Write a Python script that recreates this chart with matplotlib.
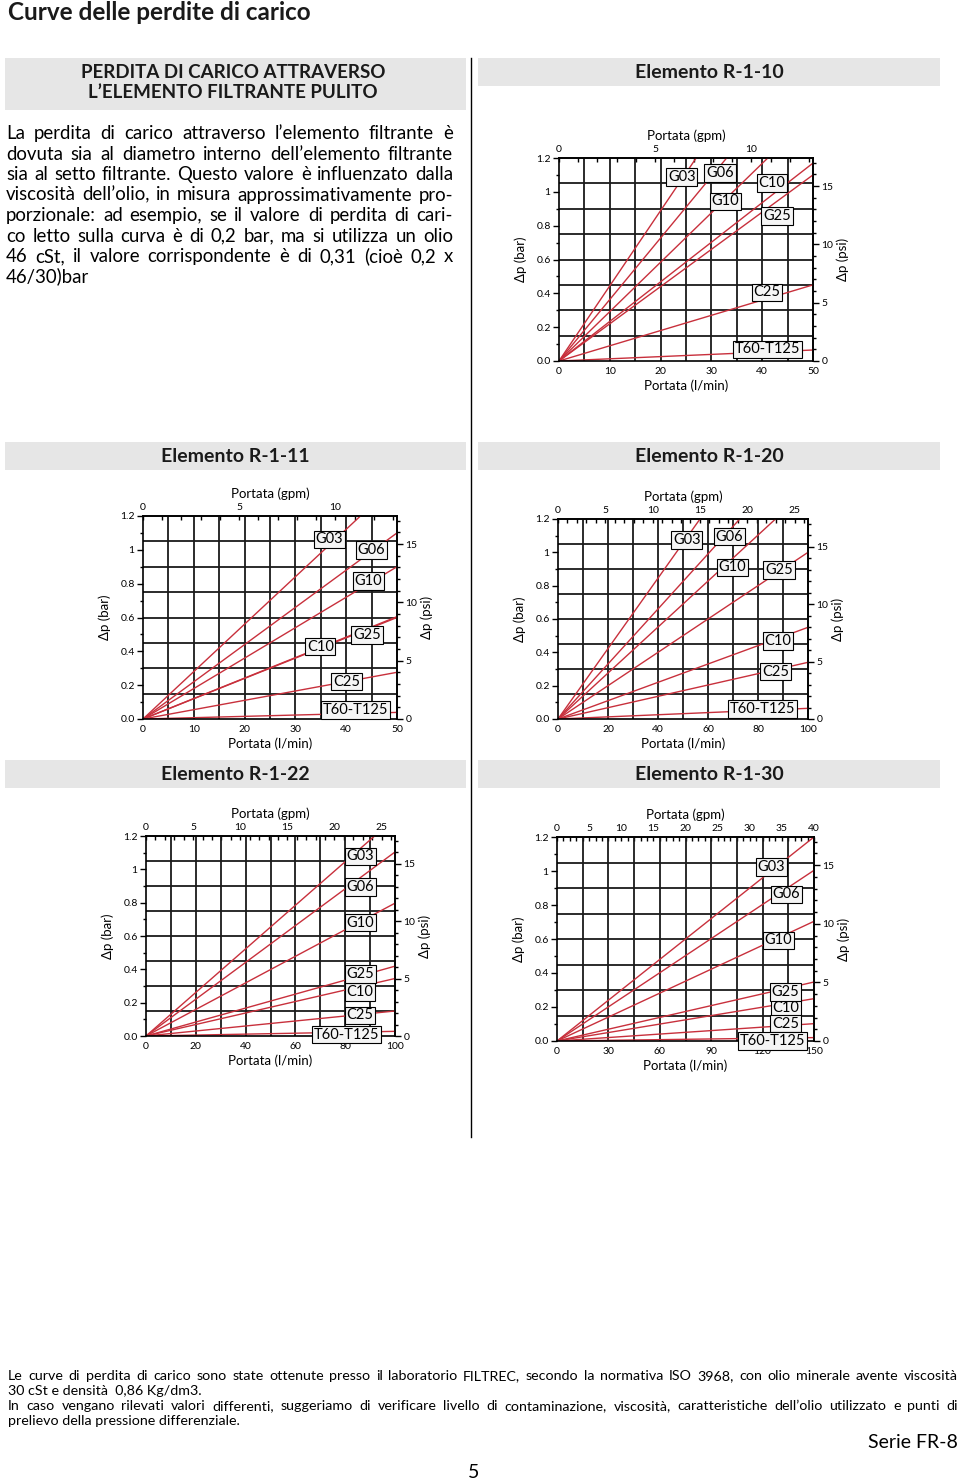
import numpy as np
import matplotlib
matplotlib.use('Agg')
import matplotlib.pyplot as plt
from matplotlib.ticker import MultipleLocator

plt.rcParams['font.family'] = ['Lato', 'DejaVu Sans']

W, H = 960, 1482
fig = plt.figure(figsize=(W / 100, H / 100), dpi=100)


def fx(x):
    return x / W


def fy(y):
    return 1 - y / H


RED = '#c8303c'
names = ['G03', 'G06', 'G10', 'C10', 'G25', 'C25', 'T60-T125']

# end points of each curve (l/min, bar) and label positions
# Elemento R-1-10
r110_ex = [27.0, 33.0, 41.1, 50, 50, 50, 50]
r110_ey = [1.2, 1.2, 1.2, 1.17, 1.10, 0.45, 0.065]
r110_lx = [24.2, 31.7, 32.7, 41.9, 42.9, 40.9, 41.1]
r110_ly = [1.087, 1.11, 0.943, 1.052, 0.858, 0.405, 0.069]
# Elemento R-1-11
r111_ex = [42.8, 50, 50, 50, 50, 50, 50]
r111_ey = [1.2, 1.10, 0.90, 0.60, 0.605, 0.276, 0.039]
r111_lx = [36.7, 44.9, 44.4, 34.9, 44.1, 40.1, 41.8]
r111_ly = [1.062, 0.999, 0.816, 0.428, 0.497, 0.221, 0.053]
# Elemento R-1-20
r120_ex = [56.8, 72.7, 87.0, 100, 100, 100, 100]
r120_ey = [1.2, 1.2, 1.2, 0.55, 1.0, 0.34, 0.064]
r120_lx = [51.5, 68.5, 69.8, 88.0, 88.4, 87.0, 81.6]
r120_ly = [1.074, 1.094, 0.91, 0.468, 0.894, 0.284, 0.06]
# Elemento R-1-22
r122_ex = [91.8, 100, 100, 100, 100, 100, 100]
r122_ey = [1.2, 1.104, 0.797, 0.345, 0.419, 0.15, 0.028]
r122_lx = [86.2, 86.2, 86.2, 86.0, 86.0, 86.0, 80.5]
r122_ly = [1.078, 0.893, 0.68, 0.265, 0.371, 0.124, 0.008]
# Elemento R-1-30
r130_ex = [150, 150, 150, 150, 150, 150, 150]
r130_ey = [1.2, 1.004, 0.704, 0.249, 0.347, 0.102, 0.02]
r130_lx = [125.3, 133.7, 129.2, 133.5, 133.5, 133.5, 125.5]
r130_ly = [1.024, 0.863, 0.592, 0.196, 0.288, 0.102, 0.0]

bar_ticks = [0, 0.2, 0.4, 0.6, 0.8, 1.0, 1.2]
bar_labels = ['0.0', '0.2', '0.4', '0.6', '0.8', '1', '1.2']
psi_ticks = [0, 5, 10, 15]

paragraph = [
    "La perdita di carico attraverso l’elemento filtrante è",
    "dovuta sia al diametro interno dell’elemento filtrante",
    "sia al setto filtrante. Questo valore è influenzato dalla",
    "viscosità dell’olio, in misura approssimativamente pro-",
    "porzionale:  ad esempio, se il valore di perdita di cari-",
    "co letto sulla curva è di 0,2 bar, ma si utilizza un olio",
    "46 cSt, il valore corrispondente è di 0,31 (cioè 0,2 x",
    "46/30)bar",
]
footer = [
    "Le curve di perdita di carico sono state ottenute presso il laboratorio FILTREC, secondo la normativa ISO 3968, con olio minerale avente viscosità",
    "30 cSt e densità  0,86 Kg/dm3.",
    "In caso vengano rilevati valori differenti, suggeriamo di verificare livello di contaminazione, viscosità, caratteristiche dell’olio utilizzato e punti di",
    "prelievo della pressione differenziale.",
]

renderer = fig.canvas.get_renderer()


def put_line(line, x0, x1, ybase, size, just):
    if not just:
        fig.text(fx(x0), fy(ybase), line, fontsize=size, va='baseline', ha='left')
        return
    words = line.split()
    objs = [fig.text(0, 0, w, fontsize=size, va='baseline', ha='left') for w in words]
    widths = [o.get_window_extent(renderer).width for o in objs]
    gap = (x1 - x0 - sum(widths)) / (len(words) - 1)
    x = x0
    for o, w in zip(objs, widths):
        o.set_position((fx(x), fy(ybase)))
        x += w + gap


def chart(box, xmax, xstep, xlab, gmax, lpg, ex, ey, lx, ly):
    l, t, r, b = box
    ax = fig.add_axes([fx(l), fy(b), (r - l) / W, (b - t) / H])
    ax.set_xlim(0, xmax)
    ax.set_ylim(0, 1.2)
    ax.vlines(xstep * np.arange(1, round(xmax / xstep)), 0, 1.2, color='#1a1a1a', lw=1.3, zorder=1)
    ax.hlines(0.15 * np.arange(1, 8), 0, xmax, color='#1a1a1a', lw=1.3, zorder=1)
    for i in range(len(names)):
        ax.plot([0, ex[i]], [0, ey[i]], color=RED, lw=1.0, zorder=2)
        ax.text(lx[i], ly[i], names[i], ha='center', va='center', fontsize=10.5, zorder=5,
                clip_on=False,
                bbox=dict(boxstyle='square,pad=0.12', fc='#f5f5f5', ec='black', lw=0.8))
    for s in ax.spines.values():
        s.set_linewidth(1.2)
    ax.set_xticks(np.arange(0, xmax + 1, xlab))
    ax.tick_params(axis='x', length=0, labelsize=7.5, pad=4)
    ax.set_yticks(bar_ticks)
    ax.set_yticklabels(bar_labels)
    ax.yaxis.set_minor_locator(MultipleLocator(0.1))
    ax.tick_params(axis='y', which='major', length=4, width=1, labelsize=7.5, pad=2)
    ax.tick_params(axis='y', which='minor', length=2.5, width=1)

    top = ax.secondary_xaxis('top', functions=(lambda q: q / lpg, lambda g: g * lpg))
    top.set_xticks(np.arange(0, gmax + 1, 5))
    top.xaxis.set_minor_locator(MultipleLocator(1))
    top.tick_params(which='major', direction='in', length=3, width=1, labelsize=7.5, pad=3)
    top.tick_params(which='minor', direction='in', length=3, width=1)
    top.spines['top'].set_linewidth(1.2)

    right = ax.secondary_yaxis('right', functions=(lambda p: p * 14.5038, lambda s: s / 14.5038))
    right.set_yticks(psi_ticks)
    right.yaxis.set_minor_locator(MultipleLocator(1))
    right.tick_params(which='major', length=4, width=1, labelsize=7.5, pad=2)
    right.tick_params(which='minor', length=2.5, width=1)
    right.spines['right'].set_linewidth(1.2)

    cy = (t + b) / 2
    cx = (l + r) / 2
    fig.text(fx(l - 38), fy(cy), 'Δp (bar)', rotation=90, ha='center', va='center', fontsize=9.5)
    fig.text(fx(r + 30), fy(cy), 'Δp (psi)', rotation=90, ha='center', va='center', fontsize=9.5)
    fig.text(fx(cx), fy(t - 22), 'Portata (gpm)', ha='center', va='center', fontsize=9.5)
    fig.text(fx(cx), fy(b + 25), 'Portata (l/min)', ha='center', va='center', fontsize=9.5)
    return ax


def header(x0, x1, y0, y1, text):
    fig.patches.append(plt.Rectangle((fx(x0), fy(y1)), (x1 - x0) / W, (y1 - y0) / H,
                                     transform=fig.transFigure, fc='#e6e6e6', ec='none'))
    fig.text(fx((x0 + x1) / 2), fy((y0 + y1) / 2 + 1), text, ha='center', va='center',
             fontsize=14, fontweight='bold', color='#1a1a1a')


# page title
fig.text(fx(8), fy(12), 'Curve delle perdite di carico', ha='left', va='center',
         fontsize=17.5, fontweight='bold', color='#1a1a1a')

# left intro box
fig.patches.append(plt.Rectangle((fx(5), fy(110)), 461 / W, 52 / H,
                                 transform=fig.transFigure, fc='#e6e6e6', ec='none'))
fig.text(fx(233), fy(72), 'PERDITA DI CARICO ATTRAVERSO', ha='center', va='center',
         fontsize=13.5, fontweight='bold', color='#1a1a1a')
fig.text(fx(233), fy(93), 'L’ELEMENTO FILTRANTE PULITO', ha='center', va='center',
         fontsize=13.5, fontweight='bold', color='#1a1a1a')

for i, line in enumerate(paragraph):
    put_line(line, 6, 453, 139 + i * 20.5, 13.4, i < len(paragraph) - 1)

# column separator
fig.add_artist(plt.Line2D([fx(471), fx(471)], [fy(58), fy(1137)], color='black', lw=1))

header(478, 940, 58, 86, 'Elemento R-1-10')
header(5, 466, 442, 470, 'Elemento R-1-11')
header(478, 940, 442, 470, 'Elemento R-1-20')
header(5, 466, 760, 788, 'Elemento R-1-22')
header(478, 940, 760, 788, 'Elemento R-1-30')

chart((559, 158, 813, 361), 50, 5, 10, 10, 3.785, r110_ex, r110_ey, r110_lx, r110_ly)
chart((143, 516, 397, 719), 50, 5, 10, 10, 3.785, r111_ex, r111_ey, r111_lx, r111_ly)
chart((558, 519, 808, 719), 100, 10, 20, 25, 3.785, r120_ex, r120_ey, r120_lx, r120_ly)
chart((146, 836, 395, 1036), 100, 10, 20, 25, 3.785, r122_ex, r122_ey, r122_lx, r122_ly)
chart((557, 837, 814, 1041), 150, 15, 30, 40, 3.75, r130_ex, r130_ey, r130_lx, r130_ly)

# footer notes
for i, line in enumerate(footer):
    put_line(line, 8, 958, 1380 + i * 15, 10.3, i in (0, 2))

fig.text(fx(958), fy(1443), 'Serie FR-8', ha='right', va='center', fontsize=14)
fig.text(fx(474), fy(1472), '5', ha='center', va='center', fontsize=14)

fig.savefig('out.png', dpi=100)
